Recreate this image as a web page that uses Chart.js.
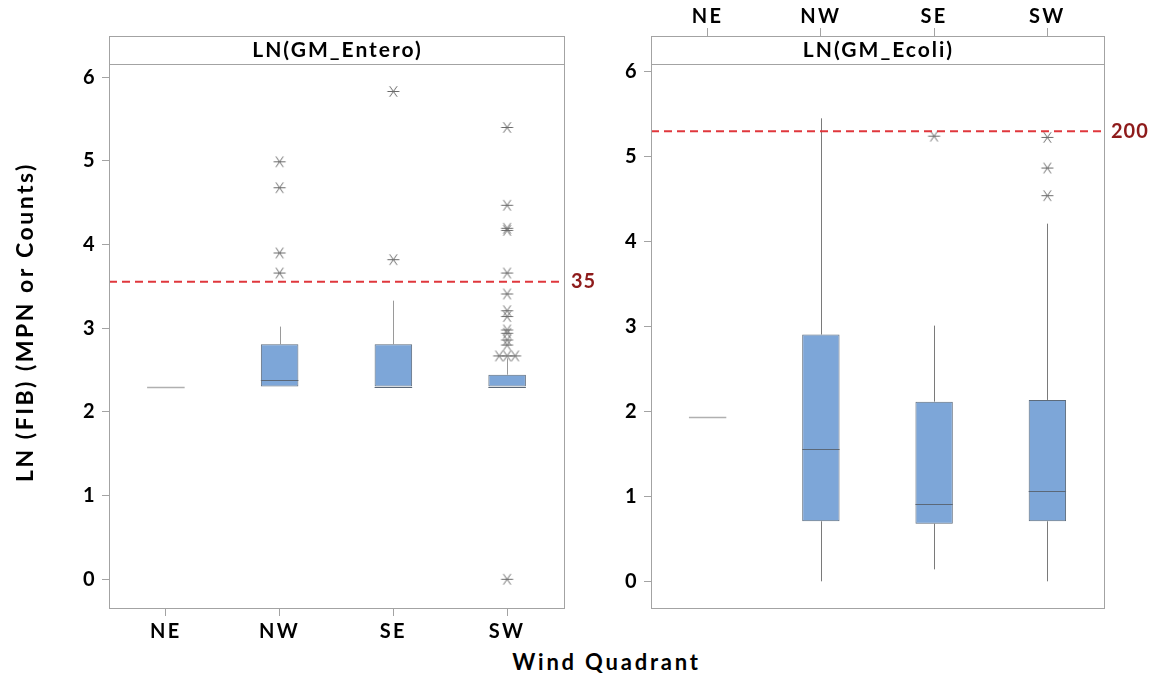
<!DOCTYPE html>
<html>
<head>
<meta charset="utf-8">
<script src="https://cdn.jsdelivr.net/npm/chart.js@4/dist/chart.umd.min.js"></script>
<style>
  body { margin: 0; background: #fff; width: 1153px; height: 678px; position: relative; overflow: hidden; font-family: Lato, sans-serif; }
  #enteroChart { position: absolute; left: 0; top: 0; }
  #ecoliChart { position: absolute; left: 600px; top: 0; }
  #xTitle { position: absolute; left: 109px; width: 995px; top: 648px; text-align: center; font: bold 22px Lato, sans-serif; letter-spacing: 2.8px; color: #000; }
</style>
</head>
<body>
<canvas id="enteroChart" width="600" height="645"></canvas>
<canvas id="ecoliChart" width="553" height="645"></canvas>
<div id="xTitle">Wind Quadrant</div>
<script>
const quadrants = ['NE', 'NW', 'SE', 'SW'];

// LN(GM_Entero) box statistics per quadrant
const enteroQ1 = [2.303, 2.303, 2.303, 2.303];
const enteroMedian = [2.303, 2.378, 2.303, 2.303];
const enteroQ3 = [2.303, 2.81, 2.81, 2.445];
const enteroLow = [2.303, 2.303, 2.303, 2.303];
const enteroHigh = [2.303, 3.02, 3.33, 2.64];
const enteroOutNE = [];
const enteroOutNW = [4.99, 4.68, 3.90, 3.66];
const enteroOutSE = [5.83, 3.82];
const enteroOutSW = [5.40, 4.47, 4.195, 4.17, 3.66, 3.41, 3.21, 3.14, 2.98, 2.94, 2.86, 2.80, 2.67, 2.67, 2.67, 0];
const enteroLimit = 35;

// LN(GM_Ecoli) box statistics per quadrant
const ecoliQ1 = [1.935, 0.707, 0.678, 0.707];
const ecoliMedian = [1.935, 1.555, 0.91, 1.064];
const ecoliQ3 = [1.935, 2.905, 2.115, 2.135];
const ecoliLow = [1.935, 0, 0.141, 0];
const ecoliHigh = [1.935, 5.45, 3.01, 4.21];
const ecoliOutNE = [];
const ecoliOutNW = [];
const ecoliOutSE = [5.24];
const ecoliOutSW = [5.225, 4.865, 4.54];
const ecoliLimit = 200;

const yTicks = [0, 1, 2, 3, 4, 5, 6];

const FONT = 'Lato, sans-serif';
const AXIS_GREY = '#a3a3a3';

// minitab-style asterisk used for outliers
function makeAsterisk() {
  const c = document.createElement('canvas');
  c.width = 15; c.height = 15;
  const g = c.getContext('2d');
  g.strokeStyle = '#6a6a6a';
  g.lineWidth = 1;
  g.translate(7.5, 7.5);
  const a = 55 * Math.PI / 180, r = 6.5;
  g.beginPath();
  g.moveTo(-6, 0); g.lineTo(6, 0);
  g.moveTo(-r * Math.cos(a), -r * Math.sin(a)); g.lineTo(r * Math.cos(a), r * Math.sin(a));
  g.moveTo(r * Math.cos(a), -r * Math.sin(a)); g.lineTo(-r * Math.cos(a), r * Math.sin(a));
  g.stroke();
  return c;
}
const asterisk = makeAsterisk();

// identical outliers are spread side by side around the category centre
function outlierPoints(lists) {
  const pts = [];
  lists.forEach((list, i) => {
    const seen = {};
    list.forEach(v => { seen[v] = (seen[v] || 0) + 1; });
    const used = {};
    list.forEach(v => {
      const n = seen[v];
      const k = used[v] = (used[v] || 0) + 1;
      pts.push({ x: i + (k - 1 - (n - 1) / 2) * 0.07, y: v });
    });
  });
  return pts;
}

const boxExtras = {
  id: 'boxExtras',
  beforeDraw(chart) {
    // spaced lettering for all axis text
    chart.ctx.letterSpacing = '2.5px';
  },
  beforeDatasetsDraw(chart, args, o) {
    const { ctx } = chart;
    const xs = chart.scales.x, ys = chart.scales.y;
    ctx.save();
    ctx.strokeStyle = o.whisker;
    ctx.lineWidth = 1;
    o.q1.forEach((q1, i) => {
      const x = Math.round(xs.getPixelForValue(i)) + 0.5;
      ctx.beginPath();
      ctx.moveTo(x, ys.getPixelForValue(o.q3[i]));
      ctx.lineTo(x, ys.getPixelForValue(o.high[i]));
      ctx.moveTo(x, ys.getPixelForValue(q1));
      ctx.lineTo(x, ys.getPixelForValue(o.low[i]));
      ctx.stroke();
    });
    ctx.restore();
  },
  afterDatasetsDraw(chart, args, o) {
    const { ctx, chartArea: a } = chart;
    const xs = chart.scales.x, ys = chart.scales.y;
    const w = (xs.getPixelForValue(1) - xs.getPixelForValue(0)) * 0.33;
    ctx.save();
    // medians
    o.median.forEach((m, i) => {
      const flat = o.q1[i] === o.q3[i];
      const x = xs.getPixelForValue(i);
      const y = Math.round(ys.getPixelForValue(m)) + 0.5;
      ctx.strokeStyle = flat ? '#b0b0b0' : '#5b6878';
      ctx.lineWidth = flat ? 1.5 : 1;
      ctx.beginPath();
      ctx.moveTo(x - w / 2, y);
      ctx.lineTo(x + w / 2, y);
      ctx.stroke();
    });
    // reference limit
    const ly = ys.getPixelForValue(Math.log(o.limit));
    ctx.strokeStyle = '#e0373c';
    ctx.lineWidth = 2;
    ctx.setLineDash([8, 5]);
    ctx.beginPath();
    ctx.moveTo(a.left, ly);
    ctx.lineTo(a.right, ly);
    ctx.stroke();
    ctx.setLineDash([]);
    ctx.fillStyle = '#8e1b1b';
    ctx.font = 'bold 20px ' + FONT;
    ctx.letterSpacing = '1px';
    ctx.textAlign = 'left';
    ctx.textBaseline = 'middle';
    ctx.fillText(String(o.limit), a.right + 7, ly);
    ctx.restore();
  },
  afterDraw(chart, args, o) {
    const { ctx, chartArea: a } = chart;
    ctx.save();
    ctx.fillStyle = '#fff';
    ctx.fillRect(a.left, a.top, a.right - a.left, 28);
    ctx.strokeStyle = AXIS_GREY;
    ctx.lineWidth = 1;
    ctx.strokeRect(Math.round(a.left) + 0.5, Math.round(a.top) + 0.5, Math.round(a.right - a.left), Math.round(a.bottom - a.top));
    ctx.beginPath();
    ctx.moveTo(a.left, Math.round(a.top + 28) + 0.5);
    ctx.lineTo(a.right, Math.round(a.top + 28) + 0.5);
    ctx.stroke();
    ctx.fillStyle = '#000';
    ctx.font = 'bold 21px ' + FONT;
    ctx.letterSpacing = '2px';
    ctx.textAlign = 'center';
    ctx.textBaseline = 'middle';
    ctx.fillText(o.title, (a.left + a.right) / 2 + 1, a.top + 14);
    ctx.restore();
  }
};

function boxChart(id, s) {
  const ctx = document.getElementById(id).getContext('2d');
  return new Chart(ctx, {
    type: 'bar',
    data: {
      labels: quadrants,
      datasets: [
        {
          type: 'bar',
          xAxisID: 'x',
          data: s.q1.map((v, i) => v === s.q3[i] ? null : [v, s.q3[i]]),
          backgroundColor: '#7da6d8',
          borderColor: '#5d6b7b',
          borderWidth: 1,
          borderSkipped: false,
          grouped: false,
          barPercentage: 0.33,
          categoryPercentage: 1,
          order: 2
        },
        {
          type: 'scatter',
          xAxisID: 'xj',
          data: outlierPoints(s.out),
          pointStyle: asterisk,
          order: 1
        }
      ]
    },
    options: {
      responsive: false,
      animation: false,
      layout: { padding: s.padding },
      plugins: {
        legend: { display: false },
        tooltip: { enabled: false },
        boxExtras: { q1: s.q1, q3: s.q3, median: s.median, low: s.low, high: s.high, limit: s.limit, title: s.title, whisker: s.whisker }
      },
      scales: {
        x: {
          type: 'category',
          position: s.xPos,
          offset: true,
          border: { display: false },
          grid: { offset: false, drawOnChartArea: false, tickLength: 8, color: AXIS_GREY },
          ticks: { color: '#000', padding: s.xPos === 'top' ? -1 : 4, font: { family: FONT, weight: 'bold', size: 20 } },
          afterFit: sc => { sc.height = s.xHeight; }
        },
        // plain linear twin of the category axis, used to place outliers
        xj: { type: 'linear', axis: 'x', position: s.xPos, min: -0.5, max: 3.5, offset: false, display: false },
        y: {
          type: 'linear',
          min: s.yMin,
          max: s.yMax,
          border: { display: false },
          grid: { drawOnChartArea: false, tickLength: 7, color: AXIS_GREY },
          afterBuildTicks: sc => { sc.ticks = yTicks.map(v => ({ value: v })); },
          ticks: { color: '#000', padding: 5, font: { family: FONT, weight: 'bold', size: 20 } },
          title: s.yTitle
            ? { display: true, text: s.yTitle, color: '#000', padding: { top: 12, bottom: 0 }, font: { family: FONT, weight: 'bold', size: 23 } }
            : { display: false },
          afterFit: sc => { sc.width = s.yWidth; }
        }
      }
    },
    plugins: [boxExtras]
  });
}

boxChart('enteroChart', {
  title: 'LN(GM_Entero)',
  q1: enteroQ1, q3: enteroQ3, median: enteroMedian, low: enteroLow, high: enteroHigh,
  out: [enteroOutNE, enteroOutNW, enteroOutSE, enteroOutSW],
  limit: enteroLimit,
  whisker: '#9a9a9a',
  yMin: -0.343, yMax: 6.493,
  yTitle: 'LN (FIB) (MPN or Counts)',
  yWidth: 109, xPos: 'bottom', xHeight: 37,
  padding: { left: 0, right: 36, top: 36, bottom: 0 }
});

boxChart('ecoliChart', {
  title: 'LN(GM_Ecoli)',
  q1: ecoliQ1, q3: ecoliQ3, median: ecoliMedian, low: ecoliLow, high: ecoliHigh,
  out: [ecoliOutNE, ecoliOutNW, ecoliOutSE, ecoliOutSW],
  limit: ecoliLimit,
  whisker: '#7a7a7a',
  yMin: -0.314, yMax: 6.419,
  yTitle: null,
  yWidth: 51, xPos: 'top', xHeight: 36,
  padding: { left: 0, right: 49, top: 0, bottom: 37 }
});
</script>
</body>
</html>
